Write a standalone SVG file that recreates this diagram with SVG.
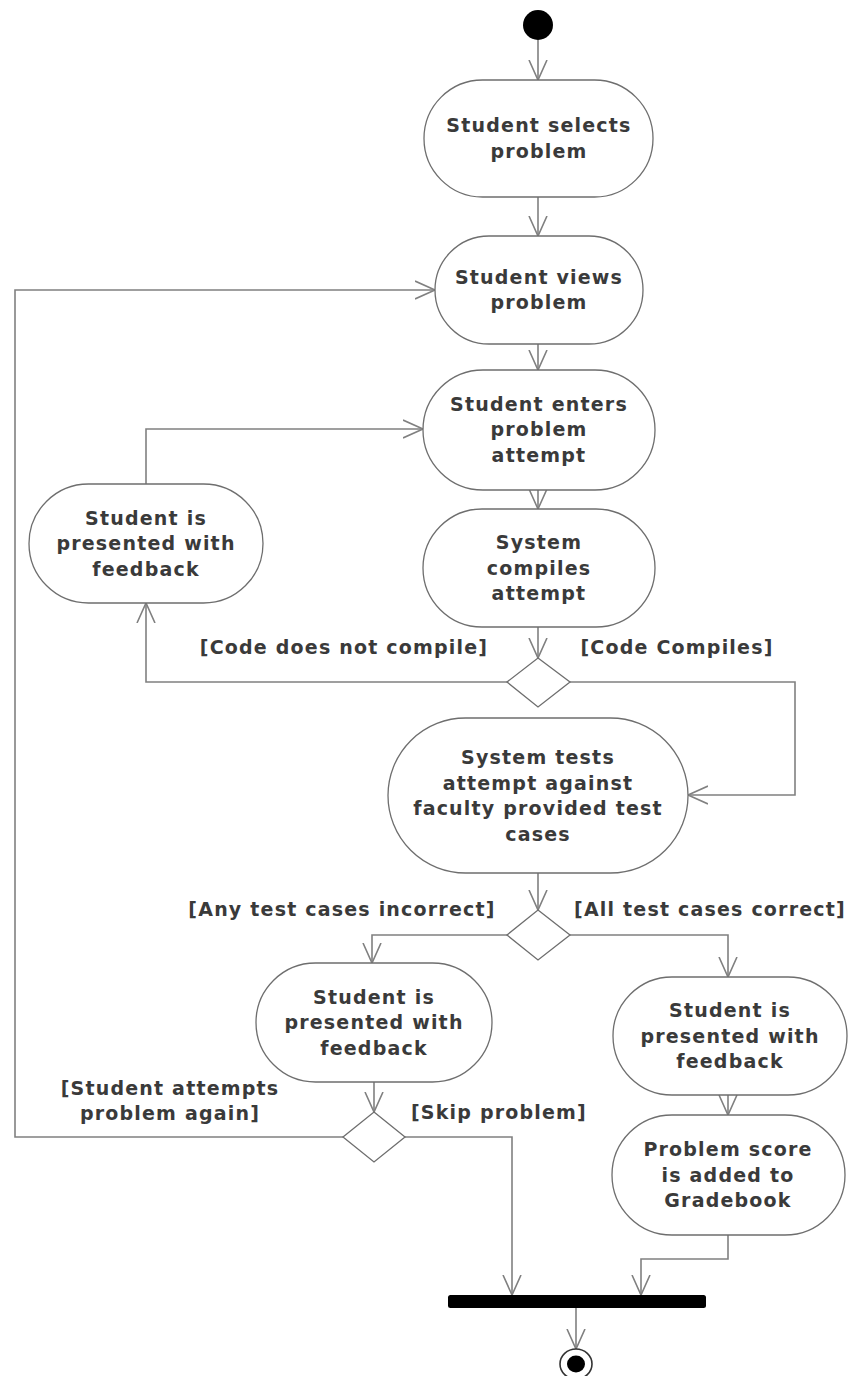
<svg xmlns="http://www.w3.org/2000/svg" width="849" height="1376" viewBox="0 0 849 1376">
  <style>
    .act { fill: #ffffff; stroke: #6e6e6e; stroke-width: 1.3; }
    .dec { fill: #ffffff; stroke: #6e6e6e; stroke-width: 1.3; }
    .flow { fill: none; stroke: #808080; stroke-width: 1.6; marker-end: url(#arrow); }
    text { font-family: "DejaVu Sans", Verdana, sans-serif; font-weight: bold; font-size: 19px; letter-spacing: 1.2px; fill: #3a3a3a; text-anchor: middle; }
  </style>
  <defs>
    <marker id="arrow" markerWidth="22" markerHeight="22" refX="20" refY="10" orient="auto" markerUnits="userSpaceOnUse">
      <path d="M0,1 L20,10 L0,19" fill="none" stroke="#808080" stroke-width="1.6"/>
    </marker>
  </defs>

  <rect width="849" height="1376" fill="#ffffff"/>

  <!-- control flow edges -->
  <g id="connectors">
    <path class="flow" d="M538,40 V80"/>
    <path class="flow" d="M538,197 V236"/>
    <path class="flow" d="M538,344 V370"/>
    <path class="flow" d="M538,490 V509"/>
    <path class="flow" d="M538,627 V658"/>
    <path class="flow" d="M507,682 H146 V603"/>
    <path class="flow" d="M146,484 V429 H423"/>
    <path class="flow" d="M570,682 H795 V795 H688"/>
    <path class="flow" d="M538,873 V910"/>
    <path class="flow" d="M507,935 H372 V963"/>
    <path class="flow" d="M570,935 H728 V977"/>
    <path class="flow" d="M374,1082 V1112"/>
    <path class="flow" d="M343,1137 H15 V290 H435"/>
    <path class="flow" d="M405,1137 H512 V1295"/>
    <path class="flow" d="M728,1095 V1115"/>
    <path class="flow" d="M728,1235 V1259 H641 V1295"/>
    <path class="flow" d="M576,1308 V1349"/>
  </g>

  <!-- guard labels -->
  <g id="guards">
    <text x="344" y="654">[Code does not compile]</text>
    <text x="677" y="654">[Code Compiles]</text>
    <text x="342" y="916">[Any test cases incorrect]</text>
    <text x="710" y="916">[All test cases correct]</text>
    <text x="170" y="1095">[Student attempts</text>
    <text x="170" y="1120">problem again]</text>
    <text x="499" y="1119">[Skip problem]</text>
  </g>

  <g id="start">
    <circle cx="538" cy="25" r="15" fill="#000000"/>
  </g>

  <g id="select-problem">
    <rect class="act" x="424" y="80" width="229" height="117" rx="58.5"/>
    <text x="539" y="132">Student selects</text>
    <text x="539" y="158">problem</text>
  </g>

  <g id="view-problem">
    <rect class="act" x="435" y="236" width="208" height="108" rx="54"/>
    <text x="539" y="284">Student views</text>
    <text x="539" y="309">problem</text>
  </g>

  <g id="enter-attempt">
    <rect class="act" x="423" y="370" width="232" height="120" rx="60"/>
    <text x="539" y="411">Student enters</text>
    <text x="539" y="436">problem</text>
    <text x="539" y="462">attempt</text>
  </g>

  <g id="compile-attempt">
    <rect class="act" x="423" y="509" width="232" height="118" rx="59"/>
    <text x="539" y="549">System</text>
    <text x="539" y="575">compiles</text>
    <text x="539" y="600">attempt</text>
  </g>

  <g id="compile-feedback">
    <rect class="act" x="29" y="484" width="234" height="119" rx="59.5"/>
    <text x="146" y="525">Student is</text>
    <text x="146" y="550">presented with</text>
    <text x="146" y="576">feedback</text>
  </g>

  <g id="compile-decision">
    <polygon class="dec" points="538,658 570,682 538,707 507,682"/>
  </g>

  <g id="run-tests">
    <rect class="act" x="388" y="718" width="300" height="155" rx="77.5"/>
    <text x="538" y="764">System tests</text>
    <text x="538" y="790">attempt against</text>
    <text x="538" y="815">faculty provided test</text>
    <text x="538" y="841">cases</text>
  </g>

  <g id="test-decision">
    <polygon class="dec" points="538,910 570,935 538,960 507,935"/>
  </g>

  <g id="test-feedback-fail">
    <rect class="act" x="256" y="963" width="236" height="119" rx="59.5"/>
    <text x="374" y="1004">Student is</text>
    <text x="374" y="1029">presented with</text>
    <text x="374" y="1055">feedback</text>
  </g>

  <g id="test-feedback-pass">
    <rect class="act" x="613" y="977" width="234" height="118" rx="59"/>
    <text x="730" y="1017">Student is</text>
    <text x="730" y="1043">presented with</text>
    <text x="730" y="1068">feedback</text>
  </g>

  <g id="retry-decision">
    <polygon class="dec" points="374,1112 405,1137 374,1162 343,1137"/>
  </g>

  <g id="gradebook">
    <rect class="act" x="612" y="1115" width="233" height="120" rx="60"/>
    <text x="728" y="1156">Problem score</text>
    <text x="728" y="1182">is added to</text>
    <text x="728" y="1207">Gradebook</text>
  </g>

  <g id="join-bar">
    <rect x="448" y="1295" width="258" height="13" rx="2.5" fill="#000000"/>
  </g>

  <g id="end">
    <ellipse cx="576" cy="1364" rx="16" ry="15" fill="#ffffff" stroke="#333333" stroke-width="1.6"/>
    <ellipse cx="576" cy="1364" rx="9" ry="8.5" fill="#000000"/>
  </g>
</svg>
